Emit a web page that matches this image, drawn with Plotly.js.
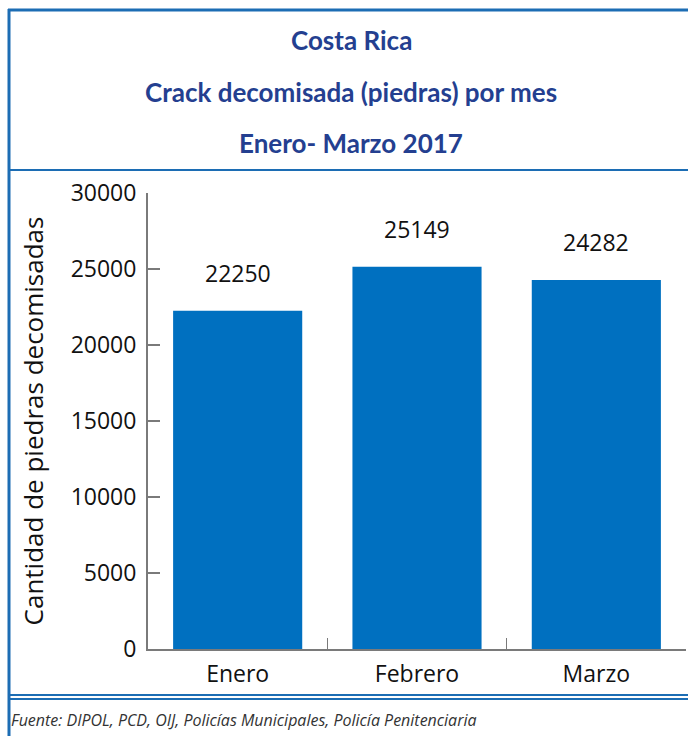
<!DOCTYPE html>
<html>
<head>
<meta charset="utf-8">
<script src="https://cdn.plot.ly/plotly-3.0.1.min.js"></script>
<style>html,body{margin:0;padding:0;background:#fff;}#chart{width:688px;height:736px;}</style>
</head>
<body>
<div id="chart"></div>
<script>
const months = ["Enero", "Febrero", "Marzo"];
const seized = [22250, 25149, 24282];
const yTicks = [0, 5000, 10000, 15000, 20000, 25000, 30000];
const titleLines = ["Costa Rica", "Crack decomisada (piedras) por mes", "Enero- Marzo 2017"];
const yTitle = "Cantidad de piedras decomisadas";
const source = "Fuente: DIPOL, PCD, OIJ, Policías Municipales, Policía Penitenciaria";

const W = 688, H = 736, L = 148, R = 2, T = 193, B = 87;
const pw = W - L - R, ph = H - T - B;
const px = x => (x - L) / pw;
const py = y => (H - B - y) / ph;

const blue = "#0070C0";
const border = "#1C6DB4";
const titleColor = "#243F90";
const axisColor = "#7a7a7a";

const annotations = [];
const titleY = [40, 92, 143];
titleLines.forEach((t, i) => annotations.push({
  text: "<b>" + t + "</b>", xref: "paper", yref: "paper", x: px(351), y: py(titleY[i]),
  xanchor: "center", yanchor: "middle", showarrow: false,
  font: {family: "Lato, 'Open Sans', sans-serif", size: 26, color: titleColor}
}));
months.forEach((m, i) => annotations.push({
  text: String(seized[i]), xref: "x", yref: "y", x: m, y: seized[i],
  xanchor: "center", yanchor: "bottom", yshift: 20, showarrow: false,
  font: {family: "'Open Sans', sans-serif", size: 23, color: "#111"}
}));
annotations.push({
  text: "<i>" + source + "</i>", xref: "paper", yref: "paper", x: px(9), y: py(720),
  xanchor: "left", yanchor: "middle", showarrow: false,
  font: {family: "'Open Sans', sans-serif", size: 16, color: "#333"}
});

const line = (x0, y0, x1, y1, w) => ({type: "line", xref: "paper", yref: "paper",
  x0: px(x0), y0: py(y0), x1: px(x1), y1: py(y1), line: {color: border, width: w}});
const shapes = [
  line(8, 10, 700, 10, 3),
  line(9, 9, 9, 750, 3),
  line(8, 170, 700, 170, 2),
  line(8, 695, 700, 695, 2),
  line(8, 699, 700, 699, 2)
];

const data = [{
  type: "bar", x: months, y: seized, width: 0.72,
  marker: {color: blue}, hoverinfo: "x+y"
}];

const layout = {
  width: W, height: H, margin: {l: L, r: R, t: T, b: B},
  paper_bgcolor: "#fff", plot_bgcolor: "#fff", showlegend: false,
  font: {family: "'Open Sans', sans-serif", color: "#111"},
  xaxis: {
    type: "category", range: [-0.5, 2.5], showgrid: false, zeroline: false,
    showline: true, linecolor: axisColor, linewidth: 2,
    ticks: "inside", tickson: "boundaries", ticklen: 11, tickcolor: axisColor, tickwidth: 1.5,
    tickfont: {size: 23, color: "#111"}, ticklabelstandoff: 3
  },
  yaxis: {
    range: [0, 30000], tickvals: yTicks, ticktext: yTicks.map(String),
    showgrid: false, zeroline: false, showline: true, linecolor: axisColor, linewidth: 2,
    ticks: "inside", ticklen: 12, tickcolor: axisColor, tickwidth: 1.5,
    tickfont: {size: 23, color: "#111"}, ticklabelstandoff: 5,
    title: {text: yTitle, font: {size: 26, color: "#111"}, standoff: 20}
  },
  annotations: annotations, shapes: shapes
};

Plotly.newPlot("chart", data, layout, {displayModeBar: false, staticPlot: true});
</script>
</body>
</html>
